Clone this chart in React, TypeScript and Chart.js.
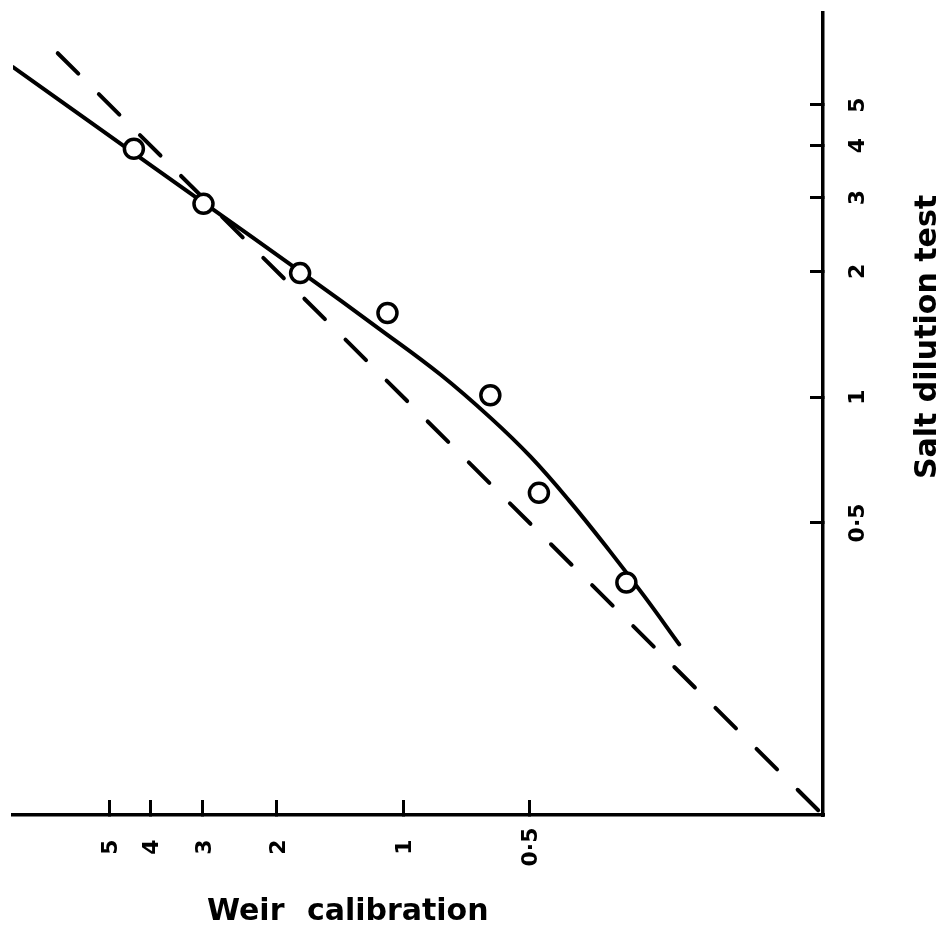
import React, { useEffect, useRef } from 'react';
import { Chart, registerables } from 'chart.js';

Chart.register(...registerables);

// Axis ticks (both axes are logarithmic)
const tickValues = [0.5, 1, 2, 3, 4, 5];
const tickLabels = ['0·5', '1', '2', '3', '4', '5'];

// Axis ranges
const xRange = [0.1, 8.5];
const yRange = [0.1, 8.3];

// Titles
const xTitle = 'Weir calibration';
const yTitle = 'Salt dilution test';

// Measured points (open circles)
const weirMeasured = [4.38, 2.99, 1.76, 1.09, 0.62, 0.475, 0.294];
const saltMeasured = [3.93, 2.9, 1.98, 1.59, 1.01, 0.59, 0.36];

// Fitted solid curve
const curveWeir = [8.5, 5.21, 3.02, 1.75, 1.13, 0.814, 0.62, 0.498, 0.401, 0.322, 0.266, 0.22];
const curveSalt = [6.16, 4.34, 2.94, 1.99, 1.447, 1.131, 0.893, 0.721, 0.563, 0.428, 0.333, 0.256];

// 1:1 dashed line (weir = salt)
const equalityLine = [6.65, 0.1];

const FONT = '"DejaVu Sans", "Liberation Sans", sans-serif';

const textPlugin = {
  id: 'axisText',
  afterDraw(chart: any) {
    const { ctx, scales } = chart;
    const x = scales.x;
    const y = scales.y;
    ctx.save();
    ctx.fillStyle = '#000';
    ctx.font = `bold 22px ${FONT}`;
    ctx.textAlign = 'center';
    ctx.textBaseline = 'middle';
    tickValues.forEach((v, i) => {
      const px = x.getPixelForValue(v);
      ctx.save();
      ctx.translate(px + 2, x.top + 32);
      ctx.rotate(-Math.PI / 2);
      ctx.fillText(tickLabels[i], 0, 0);
      ctx.restore();
      const py = y.getPixelForValue(v);
      ctx.save();
      ctx.translate(y.left + 35, py);
      ctx.rotate(-Math.PI / 2);
      ctx.fillText(tickLabels[i], 0, 0);
      ctx.restore();
    });
    // x title (horizontal)
    ctx.font = `bold 30px ${FONT}`;
    try { (ctx as any).wordSpacing = '12px'; } catch (e) {}
    ctx.textAlign = 'left';
    ctx.textBaseline = 'alphabetic';
    ctx.fillText(xTitle, 207, x.top + 105);
    try { (ctx as any).wordSpacing = '0px'; } catch (e) {}
    // y title (rotated, reads bottom to top)
    ctx.save();
    ctx.translate(y.left + 113, 337);
    ctx.rotate(-Math.PI / 2);
    ctx.textAlign = 'center';
    ctx.fillText(yTitle, 0, 0);
    ctx.restore();
    ctx.restore();
  },
};

export default function App() {
  const ref = useRef<HTMLCanvasElement | null>(null);

  useEffect(() => {
    if (!ref.current) return;
    const setTicks = (scale: any) => {
      scale.ticks = tickValues.map((v) => ({ value: v }));
    };
    const chart = new Chart(ref.current, {
      type: 'scatter',
      data: {
        datasets: [
          {
            label: 'Measured',
            data: weirMeasured.map((v, i) => ({ x: v, y: saltMeasured[i] })),
            showLine: false,
            pointRadius: 9.5,
            pointHoverRadius: 9.5,
            pointBorderWidth: 3.5,
            pointBackgroundColor: '#fff',
            pointBorderColor: '#000',
          },
          {
            label: 'Curve',
            data: curveWeir.map((v, i) => ({ x: v, y: curveSalt[i] })),
            showLine: true,
            borderColor: '#000',
            borderWidth: 4,
            pointRadius: 0,
            tension: 0.4,
            borderCapStyle: 'round',
            borderJoinStyle: 'round',
          },
          {
            label: 'Equality',
            data: equalityLine.map((v) => ({ x: v, y: v })),
            showLine: true,
            borderColor: '#000',
            borderWidth: 4,
            borderDash: [29, 29],
            borderCapStyle: 'round',
            pointRadius: 0,
          },
        ],
      },
      options: {
        responsive: false,
        animation: false,
        events: [],
        layout: { padding: { left: 10, top: 10, right: 0, bottom: 0 } },
        plugins: {
          legend: { display: false },
          tooltip: { enabled: false },
          title: { display: false },
        },
        scales: {
          x: {
            type: 'logarithmic',
            position: 'bottom',
            reverse: true,
            min: xRange[0],
            max: xRange[1],
            afterBuildTicks: setTicks,
            afterFit: (scale: any) => {
              scale.height = 116;
            },
            ticks: { display: false },
            grid: {
              drawOnChartArea: false,
              drawTicks: true,
              tickLength: -15,
              color: '#000',
              lineWidth: 3,
            },
            border: { display: true, color: '#000', width: 3.5 },
            title: { display: false },
          },
          y: {
            type: 'logarithmic',
            position: 'right',
            min: yRange[0],
            max: yRange[1],
            afterBuildTicks: setTicks,
            afterFit: (scale: any) => {
              scale.width = 119;
            },
            ticks: { display: false },
            grid: {
              drawOnChartArea: false,
              drawTicks: true,
              tickLength: -13,
              color: '#000',
              lineWidth: 3,
            },
            border: { display: true, color: '#000', width: 3.5 },
            title: { display: false },
          },
        },
      } as any,
      plugins: [textPlugin],
    });
    return () => chart.destroy();
  }, []);

  return (
    <div style={{ position: 'fixed', left: 0, top: 0, width: 942, height: 931, background: '#fff' }}>
      <canvas ref={ref} width={942} height={931} style={{ display: 'block', width: 942, height: 931 }} />
    </div>
  );
}
